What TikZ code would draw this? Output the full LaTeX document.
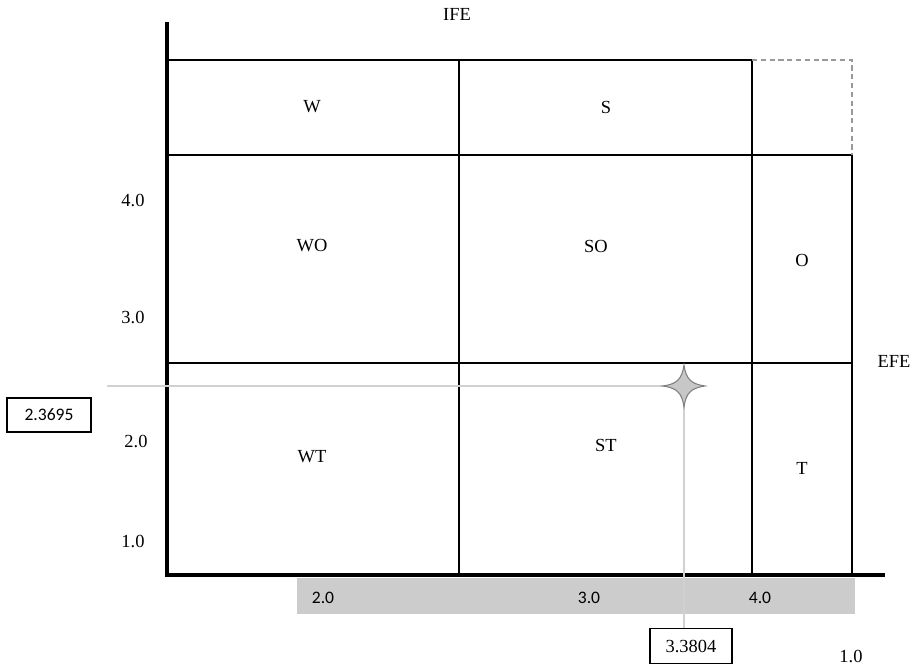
\documentclass[tikz,border=0pt]{standalone}
\usepackage{fontspec}
\setmainfont{Liberation Serif}
\newfontfamily\numfont{Carlito}
\usetikzlibrary{positioning,calc}

\begin{document}
\begin{tikzpicture}[x=0.02cm,y=-0.02cm,font=\fontsize{10.5}{12}\selectfont,
  cell/.style={draw=black,line width=0.7pt},
  axisline/.style={line width=2.8pt},
  guide/.style={draw=black!18,line width=1.1pt},
  valbox/.style={draw,line width=0.6pt,inner sep=0pt,minimum height=0.68cm}]
  \useasboundingbox (0,0) rectangle (920,672);

  % quadrant grid
  \draw[cell] (168,60) rectangle (752,575);
  \draw[cell] (168,155) -- (852,155);
  \draw[cell] (168,363) -- (852,363);
  \draw[cell] (459,60) -- (459,575);
  \draw[cell] (852,155) -- (852,575);
  \draw[densely dashed,draw=black!40,line width=0.6pt] (752,60) -- (852,60) -- (852,155);

  % value scale under the x axis
  \fill[black!20] (297,578) rectangle (855,614);
  \node[font=\numfont\fontsize{10}{12}\selectfont] (x2) at (323,598) {2.0};
  \node[font=\numfont\fontsize{10}{12}\selectfont] (x3) at (589,598) {3.0};
  \node[font=\numfont\fontsize{10}{12}\selectfont] (x4) at (760,598) {4.0};

  % axes
  \draw[axisline] (167,22) -- (167,576);
  \draw[axisline] (165,575) -- (885,575);
  \node (ife) at (457,14) {IFE};
  \node (efe) at (894,361) {EFE};
  \node (y4) at (133,200) {4.0};
  \node (y3) at (133,317) {3.0};
  \node (y2) at (136,441) {2.0};
  \node (y1) at (133,541) {1.0};
  \node (one) at (851,656) {1.0};

  % quadrant names
  \node (w) at (312,107) {W};
  \node (s) at (606,107) {S};
  \node (wo) at (312,246) {WO};
  \node (so) at (596,246) {SO};
  \node (o) at (802,260) {O};
  \node (wt) at (312,457) {WT};
  \node (st) at (606,445) {ST};
  \node (t) at (802,468) {T};

  % position of the firm
  \coordinate (pt) at (684,386);
  \coordinate (gl) at (107,386);
  \node[valbox,minimum width=1.68cm,font=\numfont\fontsize{10}{12}\selectfont] (ifebox) at (49,415) {2.3695};
  \node[valbox,minimum width=1.64cm,minimum height=0.7cm] (efebox) at (691,646) {3.3804};
  \draw[guide] (gl) -- (pt);
  \draw[guide] (pt) -- (pt |- efebox.north);
  \draw[fill=black!22,draw=black!50,line width=0.6pt,shift={(pt)}]
    (-21,0) .. controls (-7,-2) and (-2,-7) .. (0,-21)
    .. controls (2,-7) and (7,-2) .. (21,0)
    .. controls (7,2) and (2,7) .. (0,21)
    .. controls (-2,7) and (-7,2) .. (-21,0) -- cycle;
\end{tikzpicture}
\end{document}
